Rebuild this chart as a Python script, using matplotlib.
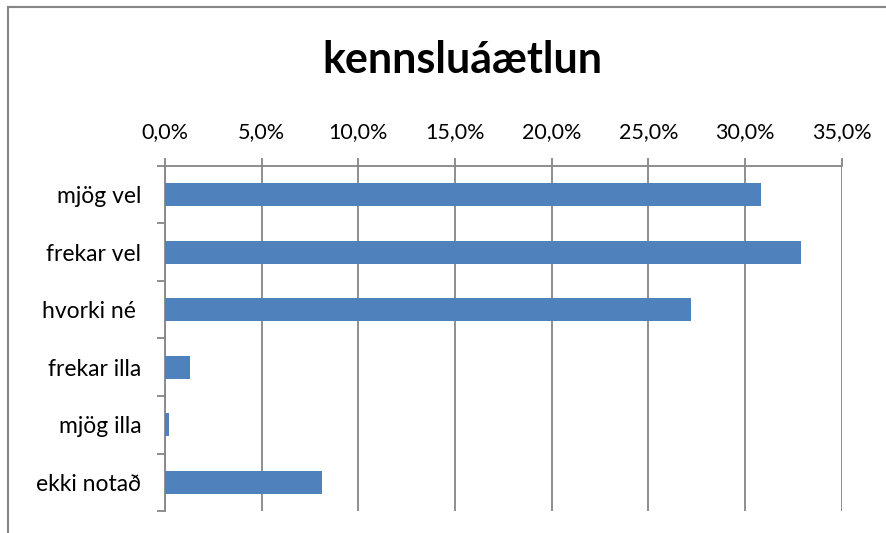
import numpy as np
import matplotlib
matplotlib.use('Agg')
import matplotlib.pyplot as plt
from matplotlib.lines import Line2D
from matplotlib.ticker import FuncFormatter

plt.rcParams['font.family'] = ['Lato', 'DejaVu Sans']

categories = ['mjög vel', 'frekar vel', 'hvorki né ', 'frekar illa', 'mjög illa', 'ekki notað']
values = [30.8, 32.9, 27.2, 1.3, 0.2, 8.1]
xticks = [0, 5, 10, 15, 20, 25, 30, 35]

grey = '#868686'
bar_color = '#4F81BD'

fig = plt.figure(figsize=(8.87, 5.33), dpi=100)
ax = fig.add_axes([0.186, 0.041, 0.763, 0.648])

y = np.arange(len(categories))
ax.barh(y, values, height=0.4, color=bar_color, zorder=3)

ax.set_xlim(0, 35)
ax.set_ylim(len(categories) - 0.5, -0.5)
ax.set_xticks(xticks)
ax.xaxis.set_major_formatter(FuncFormatter(lambda v, p: f'{v:.1f}%'.replace('.', ',')))
ax.xaxis.tick_top()
ax.tick_params(axis='x', direction='out', length=6, width=1.3, color=grey,
               labelsize=15.5, pad=11)

ax.set_yticks(y)
ax.set_yticklabels(categories)
ax.set_yticks(np.arange(-0.5, len(categories)), minor=True)
ax.tick_params(axis='y', which='major', length=0, labelsize=16.5, pad=17)
ax.tick_params(axis='y', which='minor', direction='out', length=6, width=1.3, color=grey)

ax.grid(axis='x', color=grey, linewidth=1.3, zorder=0)
for side in ['bottom', 'right']:
    ax.spines[side].set_visible(False)
for side in ['top', 'left']:
    ax.spines[side].set_color(grey)
    ax.spines[side].set_linewidth(1.3)

fig.text(0.521, 0.888, 'kennsluáætlun', ha='center', va='center',
         fontsize=31, fontweight='bold')

# chart area frame
fig.add_artist(Line2D([0.009, 1.0], [0.987, 0.987], transform=fig.transFigure,
                      color=grey, linewidth=1.5))
fig.add_artist(Line2D([0.009, 0.009], [0.0, 0.987], transform=fig.transFigure,
                      color=grey, linewidth=1.5))

fig.savefig('out.png', dpi=100)
